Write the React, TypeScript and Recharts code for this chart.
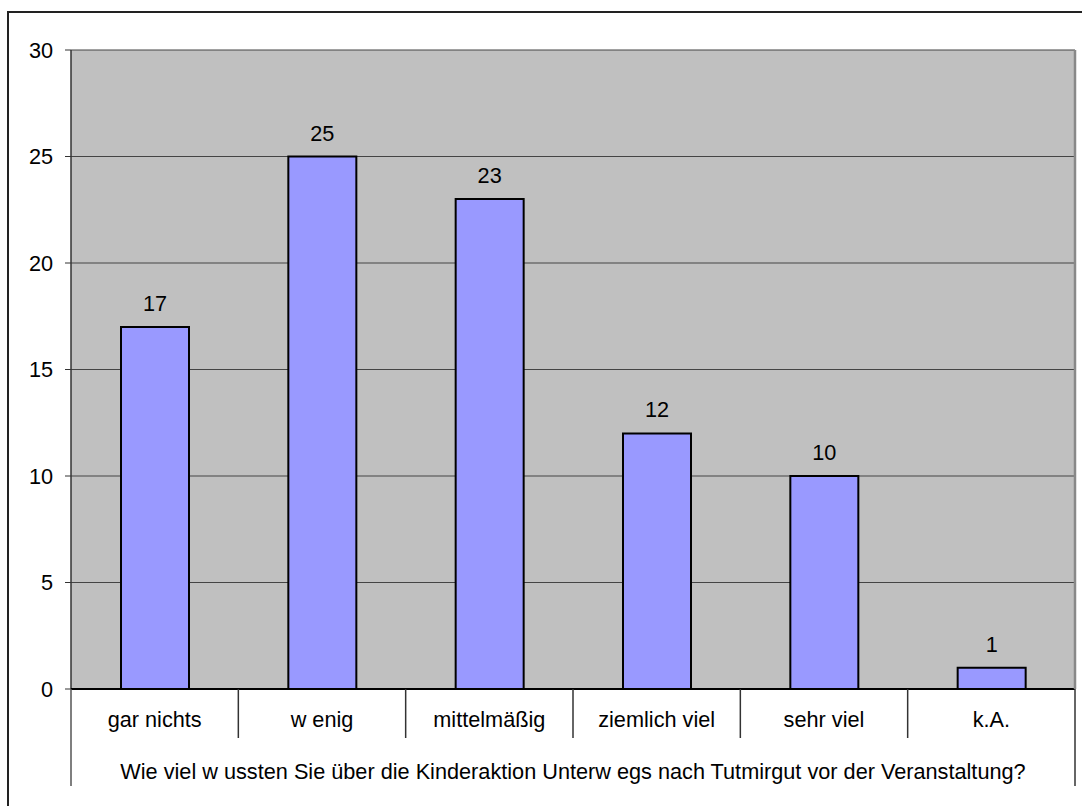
import React from 'react';
import { BarChart, Bar, XAxis, YAxis, CartesianGrid, LabelList } from 'recharts';

const categories = ['gar nichts', 'w enig', 'mittelmäßig', 'ziemlich viel', 'sehr viel', 'k.A.'];
const counts = [17, 25, 23, 12, 10, 1];
const yTicks = [0, 5, 10, 15, 20, 25, 30];
const axisTitle =
  'Wie viel w ussten Sie über die Kinderaktion Unterw egs nach Tutmirgut vor der Veranstaltung?';

const data = categories.map((name, i) => ({ name, value: counts[i] }));

const W = 1082;
const H = 806;
const PLOT_LEFT = 71;
const PLOT_RIGHT = 1075;
const PLOT_TOP = 50;
const PLOT_BOTTOM = 689;
const BAND = (PLOT_RIGHT - PLOT_LEFT) / categories.length;
const FONT = "Arial, 'Liberation Sans', sans-serif";
const FS = 21.7;

function CategoryTick(props: any) {
  const { x, payload, index } = props;
  const half = BAND / 2;
  const last = index === categories.length - 1;
  return (
    <g>
      <text
        x={x}
        y={PLOT_BOTTOM + 30}
        textAnchor="middle"
        dominantBaseline="central"
        fontSize={FS}
        fontFamily={FONT}
        fill="#000"
      >
        {payload.value}
      </text>
      {!last && (
        <line x1={x + half} x2={x + half} y1={PLOT_BOTTOM} y2={PLOT_BOTTOM + 49} stroke="#333" strokeWidth={1.5} />
      )}
      {index === 0 && (
        <>
          <line x1={x - half} x2={x - half} y1={PLOT_BOTTOM} y2={PLOT_BOTTOM + 97} stroke="#555" strokeWidth={1.5} />
          <text
            x={(PLOT_LEFT + PLOT_RIGHT) / 2}
            y={PLOT_BOTTOM + 82}
            textAnchor="middle"
            dominantBaseline="central"
            fontSize={FS}
            fontFamily={FONT}
            fill="#000"
          >
            {axisTitle}
          </text>
        </>
      )}
      {last && (
        <>
          <line x1={x + half} x2={x + half} y1={PLOT_BOTTOM} y2={PLOT_BOTTOM + 97} stroke="#333" strokeWidth={1.5} />
          <line x1={x + half} x2={x + half} y1={PLOT_TOP} y2={PLOT_BOTTOM} stroke="#888" strokeWidth={2.5} />
        </>
      )}
    </g>
  );
}

export default function App() {
  return (
    <div style={{ position: 'fixed', left: 0, top: 0, width: W, height: H, background: '#fff', overflow: 'hidden' }}>
      <div
        style={{
          position: 'absolute',
          left: 7,
          top: 11,
          width: W + 20,
          height: H + 20,
          borderLeft: '2px solid #222',
          borderTop: '2px solid #222',
        }}
      />
      <div style={{ position: 'absolute', left: 0, top: 0 }}>
        <BarChart
          width={W}
          height={H}
          data={data}
          margin={{ top: PLOT_TOP, right: W - PLOT_RIGHT, left: 0, bottom: 0 }}
          style={{ fontFamily: FONT }}
        >
          <CartesianGrid vertical={false} fill="#c0c0c0" stroke="#444" strokeWidth={1.2} />
          <YAxis
            width={PLOT_LEFT}
            domain={[0, 30]}
            ticks={yTicks}
            interval={0}
            tickSize={6}
            tickMargin={12}
            tick={{ fill: '#000', fontSize: FS, fontFamily: FONT }}
            tickLine={{ stroke: '#333' }}
            axisLine={{ stroke: '#333', strokeWidth: 1.5 }}
          />
          <XAxis
            dataKey="name"
            height={H - PLOT_BOTTOM}
            interval={0}
            tickLine={false}
            axisLine={{ stroke: '#000', strokeWidth: 2 }}
            tick={<CategoryTick />}
          />
          <Bar dataKey="value" fill="#9999ff" stroke="#000" strokeWidth={2} barSize={68} isAnimationActive={false}>
            <LabelList dataKey="value" position="top" offset={16} fill="#000" fontSize={FS} fontFamily={FONT} />
          </Bar>
        </BarChart>
      </div>
    </div>
  );
}
